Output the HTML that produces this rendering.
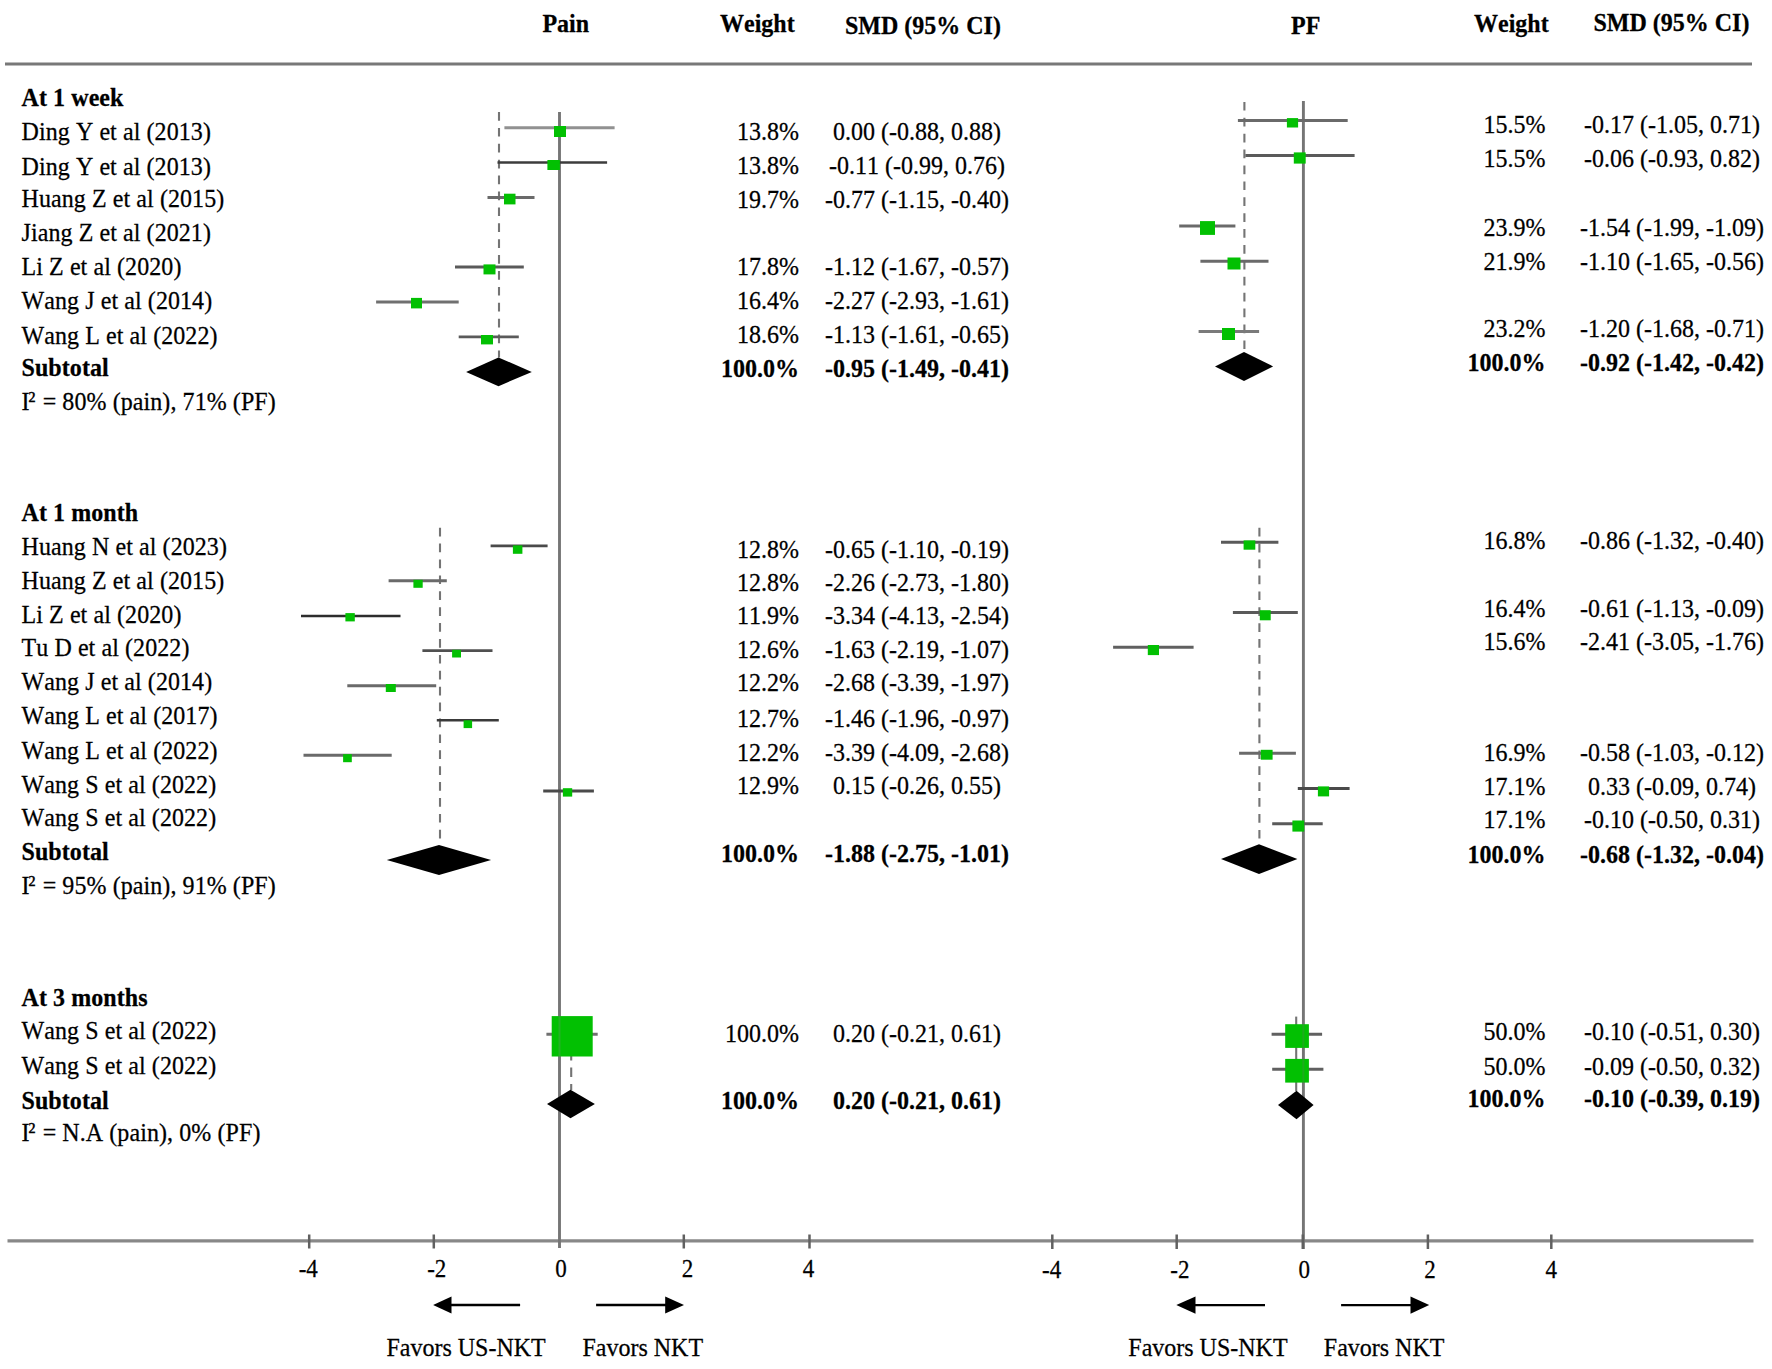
<!DOCTYPE html>
<html><head><meta charset="utf-8"><title>Forest plot</title>
<style>
html,body{margin:0;padding:0;background:#fff;}
body{width:1772px;height:1369px;overflow:hidden;}
svg{display:block;}
svg text{font-family:"Liberation Serif", "Times New Roman", serif;font-kerning:none;}
</style></head>
<body>
<svg width="1772" height="1369" viewBox="0 0 1772 1369">
<rect width="1772" height="1369" fill="#fff"/>
<text transform="translate(565.7 32.2) scale(1 1.06)" text-anchor="middle" font-weight="bold" font-size="24" fill="#000" stroke="#000" stroke-width="0.25">Pain</text>
<text transform="translate(720.0 32.1) scale(1 1.06)" text-anchor="start" font-weight="bold" font-size="24" fill="#000" stroke="#000" stroke-width="0.25">Weight</text>
<text transform="translate(845.0 34.1) scale(1 1.06)" text-anchor="start" font-weight="bold" font-size="24" fill="#000" stroke="#000" stroke-width="0.25">SMD (95% CI)</text>
<text transform="translate(1305.7 33.8) scale(1 1.06)" text-anchor="middle" font-weight="bold" font-size="24" fill="#000" stroke="#000" stroke-width="0.25">PF</text>
<text transform="translate(1474.0 32.4) scale(1 1.06)" text-anchor="start" font-weight="bold" font-size="24" fill="#000" stroke="#000" stroke-width="0.25">Weight</text>
<text transform="translate(1593.5 30.7) scale(1 1.06)" text-anchor="start" font-weight="bold" font-size="24" fill="#000" stroke="#000" stroke-width="0.25">SMD (95% CI)</text>
<line x1="5.0" y1="64.0" x2="1752.0" y2="64.0" stroke="#787878" stroke-width="3.0"/>
<line x1="7.5" y1="1240.9" x2="1753.5" y2="1240.9" stroke="#888888" stroke-width="3.2"/>
<line x1="559.5" y1="112.0" x2="559.5" y2="1248.0" stroke="#757575" stroke-width="2.9"/>
<line x1="1303.4" y1="101.0" x2="1303.4" y2="1249.0" stroke="#757575" stroke-width="2.9"/>
<line x1="309.2" y1="1234.5" x2="309.2" y2="1248.5" stroke="#606060" stroke-width="2.5"/>
<line x1="433.8" y1="1234.5" x2="433.8" y2="1248.5" stroke="#606060" stroke-width="2.5"/>
<line x1="683.8" y1="1234.5" x2="683.8" y2="1248.5" stroke="#606060" stroke-width="2.5"/>
<line x1="809.5" y1="1234.5" x2="809.5" y2="1248.5" stroke="#606060" stroke-width="2.5"/>
<line x1="1052.3" y1="1234.5" x2="1052.3" y2="1249.0" stroke="#606060" stroke-width="2.5"/>
<line x1="1176.7" y1="1234.5" x2="1176.7" y2="1249.0" stroke="#606060" stroke-width="2.5"/>
<line x1="1302.8" y1="1234.5" x2="1302.8" y2="1249.0" stroke="#606060" stroke-width="2.5"/>
<line x1="1427.9" y1="1234.5" x2="1427.9" y2="1249.0" stroke="#606060" stroke-width="2.5"/>
<line x1="1551.3" y1="1234.5" x2="1551.3" y2="1249.0" stroke="#606060" stroke-width="2.5"/>
<text transform="translate(308.2 1276.7) scale(1 1.06)" text-anchor="middle" font-size="23" fill="#000" stroke="#000" stroke-width="0.25">-4</text>
<text transform="translate(1051.6 1277.5) scale(1 1.06)" text-anchor="middle" font-size="23" fill="#000" stroke="#000" stroke-width="0.25">-4</text>
<text transform="translate(436.7 1276.7) scale(1 1.06)" text-anchor="middle" font-size="23" fill="#000" stroke="#000" stroke-width="0.25">-2</text>
<text transform="translate(1179.8 1277.5) scale(1 1.06)" text-anchor="middle" font-size="23" fill="#000" stroke="#000" stroke-width="0.25">-2</text>
<text transform="translate(561.1 1276.7) scale(1 1.06)" text-anchor="middle" font-size="23" fill="#000" stroke="#000" stroke-width="0.25">0</text>
<text transform="translate(1304.3 1277.5) scale(1 1.06)" text-anchor="middle" font-size="23" fill="#000" stroke="#000" stroke-width="0.25">0</text>
<text transform="translate(687.5 1276.7) scale(1 1.06)" text-anchor="middle" font-size="23" fill="#000" stroke="#000" stroke-width="0.25">2</text>
<text transform="translate(1430.0 1277.5) scale(1 1.06)" text-anchor="middle" font-size="23" fill="#000" stroke="#000" stroke-width="0.25">2</text>
<text transform="translate(808.4 1276.7) scale(1 1.06)" text-anchor="middle" font-size="23" fill="#000" stroke="#000" stroke-width="0.25">4</text>
<text transform="translate(1551.2 1277.5) scale(1 1.06)" text-anchor="middle" font-size="23" fill="#000" stroke="#000" stroke-width="0.25">4</text>
<line x1="450.0" y1="1305.0" x2="520.1" y2="1305.0" stroke="#000" stroke-width="2.4"/>
<polygon points="433.1,1305.0 451.5,1296.4 451.5,1313.6" fill="#000"/>
<line x1="596.1" y1="1305.0" x2="666.7" y2="1305.0" stroke="#000" stroke-width="2.4"/>
<polygon points="684.0,1305.0 665.2,1296.4 665.2,1313.6" fill="#000"/>
<line x1="1194.0" y1="1305.1" x2="1265.0" y2="1305.1" stroke="#000" stroke-width="2.4"/>
<polygon points="1176.3,1305.1 1195.5,1296.5 1195.5,1313.7" fill="#000"/>
<line x1="1341.1" y1="1305.1" x2="1412.0" y2="1305.1" stroke="#000" stroke-width="2.4"/>
<polygon points="1429.2,1305.1 1410.5,1296.5 1410.5,1313.7" fill="#000"/>
<text transform="translate(386.5 1356.3) scale(1 1.06)" text-anchor="start" font-size="24" fill="#000" stroke="#000" stroke-width="0.25">Favors US-NKT</text>
<text transform="translate(582.5 1356.3) scale(1 1.06)" text-anchor="start" font-size="24" fill="#000" stroke="#000" stroke-width="0.25">Favors NKT</text>
<text transform="translate(1128.3 1355.9) scale(1 1.06)" text-anchor="start" font-size="24" fill="#000" stroke="#000" stroke-width="0.25">Favors US-NKT</text>
<text transform="translate(1323.8 1355.9) scale(1 1.06)" text-anchor="start" font-size="24" fill="#000" stroke="#000" stroke-width="0.25">Favors NKT</text>
<line x1="499.0" y1="112.0" x2="499.0" y2="357.5" stroke="#747474" stroke-width="2.1" stroke-dasharray="8.7 7.2"/>
<line x1="440.0" y1="527.7" x2="440.0" y2="839.0" stroke="#747474" stroke-width="2.1" stroke-dasharray="8.7 7.2"/>
<line x1="571.2" y1="1018.0" x2="571.2" y2="1090.0" stroke="#747474" stroke-width="2.1" stroke-dasharray="9.5 7"/>
<line x1="1244.4" y1="101.9" x2="1244.4" y2="352.0" stroke="#747474" stroke-width="2.1" stroke-dasharray="8.7 7.2"/>
<line x1="1259.4" y1="527.8" x2="1259.4" y2="839.0" stroke="#747474" stroke-width="2.1" stroke-dasharray="8.7 7.2"/>
<line x1="1296.2" y1="1016.6" x2="1296.2" y2="1091.0" stroke="#747474" stroke-width="2.1"/>
<line x1="504.4" y1="127.8" x2="614.6" y2="127.8" stroke="#919191" stroke-width="3"/>
<line x1="497.5" y1="162.5" x2="607.1" y2="162.5" stroke="#3c3c3c" stroke-width="2.6"/>
<line x1="487.5" y1="197.5" x2="534.5" y2="197.5" stroke="#6a6a6a" stroke-width="3"/>
<line x1="455.0" y1="266.9" x2="523.8" y2="266.9" stroke="#5a5a5a" stroke-width="3"/>
<line x1="376.1" y1="302.0" x2="458.7" y2="302.0" stroke="#707070" stroke-width="3"/>
<line x1="458.7" y1="336.9" x2="518.8" y2="336.9" stroke="#5a5a5a" stroke-width="2.8"/>
<line x1="490.6" y1="545.8" x2="547.6" y2="545.8" stroke="#4a4a4a" stroke-width="2.8"/>
<line x1="388.6" y1="580.8" x2="446.8" y2="580.8" stroke="#6a6a6a" stroke-width="3"/>
<line x1="301.0" y1="616.0" x2="400.5" y2="616.0" stroke="#2d2d2d" stroke-width="2.6"/>
<line x1="422.4" y1="650.7" x2="492.5" y2="650.7" stroke="#505050" stroke-width="2.8"/>
<line x1="347.3" y1="685.8" x2="436.2" y2="685.8" stroke="#6a6a6a" stroke-width="3"/>
<line x1="436.8" y1="720.3" x2="498.8" y2="720.3" stroke="#3a3a3a" stroke-width="2.6"/>
<line x1="303.5" y1="755.3" x2="391.7" y2="755.3" stroke="#6a6a6a" stroke-width="3"/>
<line x1="543.2" y1="791.0" x2="593.9" y2="791.0" stroke="#4a4a4a" stroke-width="2.8"/>
<line x1="546.4" y1="1034.2" x2="597.7" y2="1034.2" stroke="#707070" stroke-width="3"/>
<line x1="1237.9" y1="120.4" x2="1347.7" y2="120.4" stroke="#6a6a6a" stroke-width="3"/>
<line x1="1245.4" y1="155.6" x2="1354.6" y2="155.6" stroke="#5a5a5a" stroke-width="3"/>
<line x1="1179.2" y1="226.0" x2="1235.4" y2="226.0" stroke="#6a6a6a" stroke-width="3"/>
<line x1="1200.4" y1="261.2" x2="1268.5" y2="261.2" stroke="#6a6a6a" stroke-width="3"/>
<line x1="1198.6" y1="331.5" x2="1259.1" y2="331.5" stroke="#7a7a7a" stroke-width="3"/>
<line x1="1221.0" y1="542.3" x2="1278.4" y2="542.3" stroke="#5a5a5a" stroke-width="3"/>
<line x1="1232.9" y1="612.4" x2="1297.8" y2="612.4" stroke="#5a5a5a" stroke-width="3"/>
<line x1="1113.1" y1="647.3" x2="1193.6" y2="647.3" stroke="#606060" stroke-width="3"/>
<line x1="1239.1" y1="753.3" x2="1295.9" y2="753.3" stroke="#6a6a6a" stroke-width="3"/>
<line x1="1297.8" y1="788.5" x2="1349.6" y2="788.5" stroke="#4a4a4a" stroke-width="2.8"/>
<line x1="1272.2" y1="823.7" x2="1322.7" y2="823.7" stroke="#5a5a5a" stroke-width="3"/>
<line x1="1271.6" y1="1034.2" x2="1322.1" y2="1034.2" stroke="#606060" stroke-width="3"/>
<line x1="1272.2" y1="1069.3" x2="1323.4" y2="1069.3" stroke="#606060" stroke-width="3"/>
<rect x="554.0" y="126.0" width="12.0" height="11.0" fill="#02c002"/>
<rect x="547.4" y="160.0" width="12.5" height="10.0" fill="#02c002"/>
<rect x="504.0" y="193.7" width="11.5" height="10.7" fill="#02c002"/>
<rect x="483.5" y="264.4" width="12.0" height="10.0" fill="#02c002"/>
<rect x="411.0" y="297.9" width="11.0" height="10.5" fill="#02c002"/>
<rect x="481.0" y="335.0" width="12.0" height="9.4" fill="#02c002"/>
<rect x="512.9" y="545.4" width="9.5" height="8.4" fill="#02c002"/>
<rect x="413.4" y="579.8" width="9.3" height="8.0" fill="#02c002"/>
<rect x="345.4" y="613.1" width="9.4" height="8.3" fill="#02c002"/>
<rect x="452.1" y="649.8" width="8.9" height="7.7" fill="#02c002"/>
<rect x="385.8" y="684.0" width="10.0" height="8.0" fill="#02c002"/>
<rect x="463.6" y="720.3" width="8.5" height="7.8" fill="#02c002"/>
<rect x="343.1" y="754.2" width="8.7" height="8.0" fill="#02c002"/>
<rect x="562.9" y="788.2" width="9.3" height="8.4" fill="#02c002"/>
<rect x="551.7" y="1016.1" width="41.0" height="40.4" fill="#02c002"/>
<rect x="1286.9" y="118.1" width="11.2" height="9.4" fill="#02c002"/>
<rect x="1293.8" y="152.4" width="11.9" height="11.2" fill="#02c002"/>
<rect x="1200.0" y="221.1" width="15.0" height="13.8" fill="#02c002"/>
<rect x="1227.5" y="257.5" width="13.0" height="12.0" fill="#02c002"/>
<rect x="1222.0" y="328.0" width="13.0" height="12.0" fill="#02c002"/>
<rect x="1243.6" y="540.4" width="11.7" height="9.3" fill="#02c002"/>
<rect x="1259.8" y="610.2" width="10.9" height="10.1" fill="#02c002"/>
<rect x="1147.8" y="645.0" width="11.2" height="10.1" fill="#02c002"/>
<rect x="1260.8" y="749.8" width="11.8" height="9.9" fill="#02c002"/>
<rect x="1317.9" y="786.4" width="11.2" height="10.0" fill="#02c002"/>
<rect x="1292.4" y="820.5" width="11.8" height="11.1" fill="#02c002"/>
<rect x="1285.2" y="1024.2" width="23.7" height="23.7" fill="#02c002"/>
<rect x="1285.2" y="1058.9" width="23.7" height="23.7" fill="#02c002"/>
<line x1="559.5" y1="1016.0" x2="559.5" y2="1057.0" stroke="#8a8a8a" stroke-width="2" opacity="0.25"/>
<line x1="1303.4" y1="1024.0" x2="1303.4" y2="1083.0" stroke="#6f6f6f" stroke-width="2" opacity="0.25"/>
<polygon points="466.1,371.9 498.5,357.5 531.8,371.9 498.5,386.2" fill="#000"/>
<polygon points="386.8,860.0 439.0,845.0 491.1,860.0 439.0,875.0" fill="#000"/>
<polygon points="547.0,1104.0 570.5,1089.7 594.9,1104.0 570.5,1118.2" fill="#000"/>
<polygon points="1215.0,366.4 1244.0,351.9 1273.1,366.4 1244.0,381.0" fill="#000"/>
<polygon points="1221.0,859.1 1259.0,844.2 1297.4,859.1 1259.0,874.0" fill="#000"/>
<polygon points="1278.0,1105.0 1296.5,1090.7 1313.6,1105.0 1296.5,1119.2" fill="#000"/>
<text transform="translate(21.5 105.9) scale(1 1.03)" text-anchor="start" font-weight="bold" letter-spacing="0.08" font-size="24" fill="#000" stroke="#000" stroke-width="0.25">At 1 week</text>
<text transform="translate(21.5 140.4) scale(1 1.03)" text-anchor="start" letter-spacing="0.08" font-size="24" fill="#000" stroke="#000" stroke-width="0.25">Ding Y et al (2013)</text>
<text transform="translate(21.5 174.8) scale(1 1.03)" text-anchor="start" letter-spacing="0.08" font-size="24" fill="#000" stroke="#000" stroke-width="0.25">Ding Y et al (2013)</text>
<text transform="translate(21.5 207.3) scale(1 1.03)" text-anchor="start" letter-spacing="0.08" font-size="24" fill="#000" stroke="#000" stroke-width="0.25">Huang Z et al (2015)</text>
<text transform="translate(21.5 241.0) scale(1 1.03)" text-anchor="start" letter-spacing="0.08" font-size="24" fill="#000" stroke="#000" stroke-width="0.25">Jiang Z et al (2021)</text>
<text transform="translate(21.5 274.8) scale(1 1.03)" text-anchor="start" letter-spacing="0.08" font-size="24" fill="#000" stroke="#000" stroke-width="0.25">Li Z et al (2020)</text>
<text transform="translate(21.5 309.1) scale(1 1.03)" text-anchor="start" letter-spacing="0.08" font-size="24" fill="#000" stroke="#000" stroke-width="0.25">Wang J et al (2014)</text>
<text transform="translate(21.5 343.5) scale(1 1.03)" text-anchor="start" letter-spacing="0.08" font-size="24" fill="#000" stroke="#000" stroke-width="0.25">Wang L et al (2022)</text>
<text transform="translate(21.5 376.0) scale(1 1.03)" text-anchor="start" font-weight="bold" letter-spacing="0.08" font-size="24" fill="#000" stroke="#000" stroke-width="0.25">Subtotal</text>
<text transform="translate(21.5 409.8) scale(1 1.03)" text-anchor="start" letter-spacing="0.08" font-size="24" fill="#000" stroke="#000" stroke-width="0.25">I<tspan dx="-1.3" dy="-1.2">²</tspan><tspan dx="1.0" dy="1.2"> = 80% (pain), 71% (PF)</tspan></text>
<text transform="translate(21.5 521.0) scale(1 1.03)" text-anchor="start" font-weight="bold" letter-spacing="0.08" font-size="24" fill="#000" stroke="#000" stroke-width="0.25">At 1 month</text>
<text transform="translate(21.5 554.8) scale(1 1.03)" text-anchor="start" letter-spacing="0.08" font-size="24" fill="#000" stroke="#000" stroke-width="0.25">Huang N et al (2023)</text>
<text transform="translate(21.5 589.1) scale(1 1.03)" text-anchor="start" letter-spacing="0.08" font-size="24" fill="#000" stroke="#000" stroke-width="0.25">Huang Z et al (2015)</text>
<text transform="translate(21.5 623.1) scale(1 1.03)" text-anchor="start" letter-spacing="0.08" font-size="24" fill="#000" stroke="#000" stroke-width="0.25">Li Z et al (2020)</text>
<text transform="translate(21.5 656.0) scale(1 1.03)" text-anchor="start" letter-spacing="0.08" font-size="24" fill="#000" stroke="#000" stroke-width="0.25">Tu D et al (2022)</text>
<text transform="translate(21.5 690.4) scale(1 1.03)" text-anchor="start" letter-spacing="0.08" font-size="24" fill="#000" stroke="#000" stroke-width="0.25">Wang J et al (2014)</text>
<text transform="translate(21.5 724.1) scale(1 1.03)" text-anchor="start" letter-spacing="0.08" font-size="24" fill="#000" stroke="#000" stroke-width="0.25">Wang L et al (2017)</text>
<text transform="translate(21.5 758.5) scale(1 1.03)" text-anchor="start" letter-spacing="0.08" font-size="24" fill="#000" stroke="#000" stroke-width="0.25">Wang L et al (2022)</text>
<text transform="translate(21.5 792.9) scale(1 1.03)" text-anchor="start" letter-spacing="0.08" font-size="24" fill="#000" stroke="#000" stroke-width="0.25">Wang S et al (2022)</text>
<text transform="translate(21.5 826.0) scale(1 1.03)" text-anchor="start" letter-spacing="0.08" font-size="24" fill="#000" stroke="#000" stroke-width="0.25">Wang S et al (2022)</text>
<text transform="translate(21.5 860.1) scale(1 1.03)" text-anchor="start" font-weight="bold" letter-spacing="0.08" font-size="24" fill="#000" stroke="#000" stroke-width="0.25">Subtotal</text>
<text transform="translate(21.5 894.1) scale(1 1.03)" text-anchor="start" letter-spacing="0.08" font-size="24" fill="#000" stroke="#000" stroke-width="0.25">I<tspan dx="-1.3" dy="-1.2">²</tspan><tspan dx="1.0" dy="1.2"> = 95% (pain), 91% (PF)</tspan></text>
<text transform="translate(21.5 1006.0) scale(1 1.03)" text-anchor="start" font-weight="bold" letter-spacing="0.08" font-size="24" fill="#000" stroke="#000" stroke-width="0.25">At 3 months</text>
<text transform="translate(21.5 1039.2) scale(1 1.03)" text-anchor="start" letter-spacing="0.08" font-size="24" fill="#000" stroke="#000" stroke-width="0.25">Wang S et al (2022)</text>
<text transform="translate(21.5 1073.5) scale(1 1.03)" text-anchor="start" letter-spacing="0.08" font-size="24" fill="#000" stroke="#000" stroke-width="0.25">Wang S et al (2022)</text>
<text transform="translate(21.5 1108.5) scale(1 1.03)" text-anchor="start" font-weight="bold" letter-spacing="0.08" font-size="24" fill="#000" stroke="#000" stroke-width="0.25">Subtotal</text>
<text transform="translate(21.5 1141.0) scale(1 1.03)" text-anchor="start" letter-spacing="0.08" font-size="24" fill="#000" stroke="#000" stroke-width="0.25">I<tspan dx="-1.3" dy="-1.2">²</tspan><tspan dx="1.0" dy="1.2"> = N.A (pain), 0% (PF)</tspan></text>
<text transform="translate(799.0 139.8) scale(1 1.06)" text-anchor="end" font-size="24" fill="#000" stroke="#000" stroke-width="0.25">13.8%</text>
<text transform="translate(917.0 139.8) scale(1 1.06)" text-anchor="middle" font-size="24" fill="#000" stroke="#000" stroke-width="0.25">0.00 (-0.88, 0.88)</text>
<text transform="translate(799.0 174.2) scale(1 1.06)" text-anchor="end" font-size="24" fill="#000" stroke="#000" stroke-width="0.25">13.8%</text>
<text transform="translate(917.0 174.2) scale(1 1.06)" text-anchor="middle" font-size="24" fill="#000" stroke="#000" stroke-width="0.25">-0.11 (-0.99, 0.76)</text>
<text transform="translate(799.0 207.8) scale(1 1.06)" text-anchor="end" font-size="24" fill="#000" stroke="#000" stroke-width="0.25">19.7%</text>
<text transform="translate(917.0 207.8) scale(1 1.06)" text-anchor="middle" font-size="24" fill="#000" stroke="#000" stroke-width="0.25">-0.77 (-1.15, -0.40)</text>
<text transform="translate(799.0 274.8) scale(1 1.06)" text-anchor="end" font-size="24" fill="#000" stroke="#000" stroke-width="0.25">17.8%</text>
<text transform="translate(917.0 274.8) scale(1 1.06)" text-anchor="middle" font-size="24" fill="#000" stroke="#000" stroke-width="0.25">-1.12 (-1.67, -0.57)</text>
<text transform="translate(799.0 308.9) scale(1 1.06)" text-anchor="end" font-size="24" fill="#000" stroke="#000" stroke-width="0.25">16.4%</text>
<text transform="translate(917.0 308.9) scale(1 1.06)" text-anchor="middle" font-size="24" fill="#000" stroke="#000" stroke-width="0.25">-2.27 (-2.93, -1.61)</text>
<text transform="translate(799.0 343.3) scale(1 1.06)" text-anchor="end" font-size="24" fill="#000" stroke="#000" stroke-width="0.25">18.6%</text>
<text transform="translate(917.0 343.3) scale(1 1.06)" text-anchor="middle" font-size="24" fill="#000" stroke="#000" stroke-width="0.25">-1.13 (-1.61, -0.65)</text>
<text transform="translate(799.0 376.8) scale(1 1.06)" text-anchor="end" font-weight="bold" font-size="24" fill="#000" stroke="#000" stroke-width="0.25">100.0%</text>
<text transform="translate(917.0 376.8) scale(1 1.06)" text-anchor="middle" font-weight="bold" font-size="24" fill="#000" stroke="#000" stroke-width="0.25">-0.95 (-1.49, -0.41)</text>
<text transform="translate(799.0 557.6) scale(1 1.06)" text-anchor="end" font-size="24" fill="#000" stroke="#000" stroke-width="0.25">12.8%</text>
<text transform="translate(917.0 557.6) scale(1 1.06)" text-anchor="middle" font-size="24" fill="#000" stroke="#000" stroke-width="0.25">-0.65 (-1.10, -0.19)</text>
<text transform="translate(799.0 591.1) scale(1 1.06)" text-anchor="end" font-size="24" fill="#000" stroke="#000" stroke-width="0.25">12.8%</text>
<text transform="translate(917.0 591.1) scale(1 1.06)" text-anchor="middle" font-size="24" fill="#000" stroke="#000" stroke-width="0.25">-2.26 (-2.73, -1.80)</text>
<text transform="translate(799.0 623.7) scale(1 1.06)" text-anchor="end" font-size="24" fill="#000" stroke="#000" stroke-width="0.25">11.9%</text>
<text transform="translate(917.0 623.7) scale(1 1.06)" text-anchor="middle" font-size="24" fill="#000" stroke="#000" stroke-width="0.25">-3.34 (-4.13, -2.54)</text>
<text transform="translate(799.0 658.1) scale(1 1.06)" text-anchor="end" font-size="24" fill="#000" stroke="#000" stroke-width="0.25">12.6%</text>
<text transform="translate(917.0 658.1) scale(1 1.06)" text-anchor="middle" font-size="24" fill="#000" stroke="#000" stroke-width="0.25">-1.63 (-2.19, -1.07)</text>
<text transform="translate(799.0 691.3) scale(1 1.06)" text-anchor="end" font-size="24" fill="#000" stroke="#000" stroke-width="0.25">12.2%</text>
<text transform="translate(917.0 691.3) scale(1 1.06)" text-anchor="middle" font-size="24" fill="#000" stroke="#000" stroke-width="0.25">-2.68 (-3.39, -1.97)</text>
<text transform="translate(799.0 727.0) scale(1 1.06)" text-anchor="end" font-size="24" fill="#000" stroke="#000" stroke-width="0.25">12.7%</text>
<text transform="translate(917.0 727.0) scale(1 1.06)" text-anchor="middle" font-size="24" fill="#000" stroke="#000" stroke-width="0.25">-1.46 (-1.96, -0.97)</text>
<text transform="translate(799.0 760.5) scale(1 1.06)" text-anchor="end" font-size="24" fill="#000" stroke="#000" stroke-width="0.25">12.2%</text>
<text transform="translate(917.0 760.5) scale(1 1.06)" text-anchor="middle" font-size="24" fill="#000" stroke="#000" stroke-width="0.25">-3.39 (-4.09, -2.68)</text>
<text transform="translate(799.0 793.7) scale(1 1.06)" text-anchor="end" font-size="24" fill="#000" stroke="#000" stroke-width="0.25">12.9%</text>
<text transform="translate(917.0 793.7) scale(1 1.06)" text-anchor="middle" font-size="24" fill="#000" stroke="#000" stroke-width="0.25">0.15 (-0.26, 0.55)</text>
<text transform="translate(799.0 861.7) scale(1 1.06)" text-anchor="end" font-weight="bold" font-size="24" fill="#000" stroke="#000" stroke-width="0.25">100.0%</text>
<text transform="translate(917.0 861.7) scale(1 1.06)" text-anchor="middle" font-weight="bold" font-size="24" fill="#000" stroke="#000" stroke-width="0.25">-1.88 (-2.75, -1.01)</text>
<text transform="translate(799.0 1041.9) scale(1 1.06)" text-anchor="end" font-size="24" fill="#000" stroke="#000" stroke-width="0.25">100.0%</text>
<text transform="translate(917.0 1041.9) scale(1 1.06)" text-anchor="middle" font-size="24" fill="#000" stroke="#000" stroke-width="0.25">0.20 (-0.21, 0.61)</text>
<text transform="translate(799.0 1108.9) scale(1 1.06)" text-anchor="end" font-weight="bold" font-size="24" fill="#000" stroke="#000" stroke-width="0.25">100.0%</text>
<text transform="translate(917.0 1108.9) scale(1 1.06)" text-anchor="middle" font-weight="bold" font-size="24" fill="#000" stroke="#000" stroke-width="0.25">0.20 (-0.21, 0.61)</text>
<text transform="translate(1545.5 133.1) scale(1 1.06)" text-anchor="end" font-size="24" fill="#000" stroke="#000" stroke-width="0.25">15.5%</text>
<text transform="translate(1672.0 133.1) scale(1 1.06)" text-anchor="middle" font-size="24" fill="#000" stroke="#000" stroke-width="0.25">-0.17 (-1.05, 0.71)</text>
<text transform="translate(1545.5 166.7) scale(1 1.06)" text-anchor="end" font-size="24" fill="#000" stroke="#000" stroke-width="0.25">15.5%</text>
<text transform="translate(1672.0 166.7) scale(1 1.06)" text-anchor="middle" font-size="24" fill="#000" stroke="#000" stroke-width="0.25">-0.06 (-0.93, 0.82)</text>
<text transform="translate(1545.5 235.6) scale(1 1.06)" text-anchor="end" font-size="24" fill="#000" stroke="#000" stroke-width="0.25">23.9%</text>
<text transform="translate(1672.0 235.6) scale(1 1.06)" text-anchor="middle" font-size="24" fill="#000" stroke="#000" stroke-width="0.25">-1.54 (-1.99, -1.09)</text>
<text transform="translate(1545.5 270.1) scale(1 1.06)" text-anchor="end" font-size="24" fill="#000" stroke="#000" stroke-width="0.25">21.9%</text>
<text transform="translate(1672.0 270.1) scale(1 1.06)" text-anchor="middle" font-size="24" fill="#000" stroke="#000" stroke-width="0.25">-1.10 (-1.65, -0.56)</text>
<text transform="translate(1545.5 337.1) scale(1 1.06)" text-anchor="end" font-size="24" fill="#000" stroke="#000" stroke-width="0.25">23.2%</text>
<text transform="translate(1672.0 337.1) scale(1 1.06)" text-anchor="middle" font-size="24" fill="#000" stroke="#000" stroke-width="0.25">-1.20 (-1.68, -0.71)</text>
<text transform="translate(1545.5 370.7) scale(1 1.06)" text-anchor="end" font-weight="bold" font-size="24" fill="#000" stroke="#000" stroke-width="0.25">100.0%</text>
<text transform="translate(1672.0 370.7) scale(1 1.06)" text-anchor="middle" font-weight="bold" font-size="24" fill="#000" stroke="#000" stroke-width="0.25">-0.92 (-1.42, -0.42)</text>
<text transform="translate(1545.5 548.5) scale(1 1.06)" text-anchor="end" font-size="24" fill="#000" stroke="#000" stroke-width="0.25">16.8%</text>
<text transform="translate(1672.0 548.5) scale(1 1.06)" text-anchor="middle" font-size="24" fill="#000" stroke="#000" stroke-width="0.25">-0.86 (-1.32, -0.40)</text>
<text transform="translate(1545.5 616.5) scale(1 1.06)" text-anchor="end" font-size="24" fill="#000" stroke="#000" stroke-width="0.25">16.4%</text>
<text transform="translate(1672.0 616.5) scale(1 1.06)" text-anchor="middle" font-size="24" fill="#000" stroke="#000" stroke-width="0.25">-0.61 (-1.13, -0.09)</text>
<text transform="translate(1545.5 650.0) scale(1 1.06)" text-anchor="end" font-size="24" fill="#000" stroke="#000" stroke-width="0.25">15.6%</text>
<text transform="translate(1672.0 650.0) scale(1 1.06)" text-anchor="middle" font-size="24" fill="#000" stroke="#000" stroke-width="0.25">-2.41 (-3.05, -1.76)</text>
<text transform="translate(1545.5 760.6) scale(1 1.06)" text-anchor="end" font-size="24" fill="#000" stroke="#000" stroke-width="0.25">16.9%</text>
<text transform="translate(1672.0 760.6) scale(1 1.06)" text-anchor="middle" font-size="24" fill="#000" stroke="#000" stroke-width="0.25">-0.58 (-1.03, -0.12)</text>
<text transform="translate(1545.5 795.4) scale(1 1.06)" text-anchor="end" font-size="24" fill="#000" stroke="#000" stroke-width="0.25">17.1%</text>
<text transform="translate(1672.0 795.4) scale(1 1.06)" text-anchor="middle" font-size="24" fill="#000" stroke="#000" stroke-width="0.25">0.33 (-0.09, 0.74)</text>
<text transform="translate(1545.5 828.0) scale(1 1.06)" text-anchor="end" font-size="24" fill="#000" stroke="#000" stroke-width="0.25">17.1%</text>
<text transform="translate(1672.0 828.0) scale(1 1.06)" text-anchor="middle" font-size="24" fill="#000" stroke="#000" stroke-width="0.25">-0.10 (-0.50, 0.31)</text>
<text transform="translate(1545.5 862.5) scale(1 1.06)" text-anchor="end" font-weight="bold" font-size="24" fill="#000" stroke="#000" stroke-width="0.25">100.0%</text>
<text transform="translate(1672.0 862.5) scale(1 1.06)" text-anchor="middle" font-weight="bold" font-size="24" fill="#000" stroke="#000" stroke-width="0.25">-0.68 (-1.32, -0.04)</text>
<text transform="translate(1545.5 1040.0) scale(1 1.06)" text-anchor="end" font-size="24" fill="#000" stroke="#000" stroke-width="0.25">50.0%</text>
<text transform="translate(1672.0 1040.0) scale(1 1.06)" text-anchor="middle" font-size="24" fill="#000" stroke="#000" stroke-width="0.25">-0.10 (-0.51, 0.30)</text>
<text transform="translate(1545.5 1074.5) scale(1 1.06)" text-anchor="end" font-size="24" fill="#000" stroke="#000" stroke-width="0.25">50.0%</text>
<text transform="translate(1672.0 1074.5) scale(1 1.06)" text-anchor="middle" font-size="24" fill="#000" stroke="#000" stroke-width="0.25">-0.09 (-0.50, 0.32)</text>
<text transform="translate(1545.5 1107.0) scale(1 1.06)" text-anchor="end" font-weight="bold" font-size="24" fill="#000" stroke="#000" stroke-width="0.25">100.0%</text>
<text transform="translate(1672.0 1107.0) scale(1 1.06)" text-anchor="middle" font-weight="bold" font-size="24" fill="#000" stroke="#000" stroke-width="0.25">-0.10 (-0.39, 0.19)</text>
</svg>
</body></html>
